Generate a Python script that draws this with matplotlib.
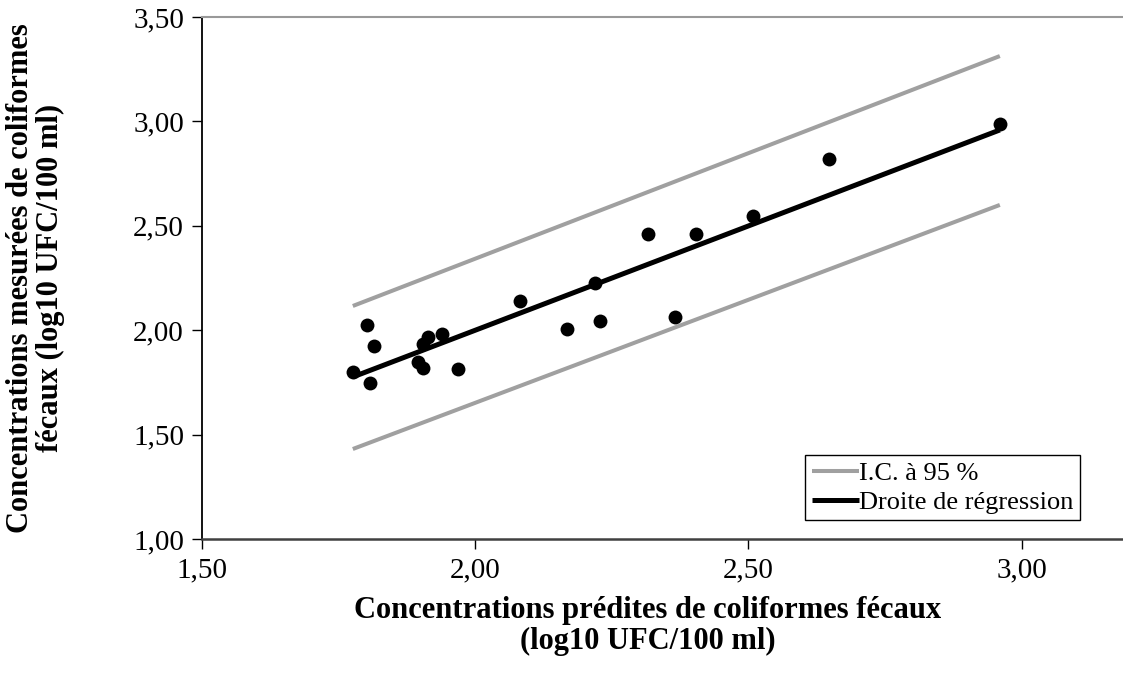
import matplotlib
matplotlib.use("Agg")
from matplotlib import pyplot as plt
from matplotlib.ticker import FuncFormatter

predites = [1.776, 1.802, 1.807, 1.815, 1.895, 1.904, 1.904, 1.913, 1.939, 1.968,
            2.082, 2.168, 2.228, 2.219, 2.316, 2.404, 2.508, 2.365, 2.647, 2.960]
mesurees = [1.800, 2.025, 1.747, 1.924, 1.848, 1.819, 1.934, 1.967, 1.982, 1.814,
            2.140, 2.006, 2.044, 2.226, 2.461, 2.461, 2.547, 2.063, 2.820, 2.988]

# end points of the regression line and of the 95 % bounds
ligne_x = [1.776, 2.960]
droite_y = [1.776, 2.959]
ic_haut_y = [2.116, 3.313]
ic_bas_y = [1.431, 2.600]

x_ticks = [1.5, 2.0, 2.5, 3.0]
y_ticks = [1.0, 1.5, 2.0, 2.5, 3.0, 3.5]

plt.rcParams['font.family'] = ['Liberation Serif', 'DejaVu Serif']

W, H = 1123, 690
fig = plt.figure(figsize=(W / 100, H / 100), dpi=100)
ax = fig.add_axes([202 / W, 1 - 539 / H, 929 / W, 522 / H])

ax.plot(ligne_x, ic_haut_y, color='#a0a0a0', lw=2.9, solid_capstyle='butt', label='I.C. à 95 %')
ax.plot(ligne_x, ic_bas_y, color='#a0a0a0', lw=2.9, solid_capstyle='butt')
ax.plot(ligne_x, droite_y, color='black', lw=3.6, solid_capstyle='butt', label='Droite de régression')
ax.scatter(predites, mesurees, s=100, color='black', zorder=3, linewidths=0)

ax.set_xlim(1.5, 3.2)
ax.set_ylim(1.0, 3.5)
ax.set_xticks(x_ticks)
ax.set_yticks(y_ticks)
fmt = FuncFormatter(lambda v, p: f"{v:.2f}".replace('.', ','))
ax.xaxis.set_major_formatter(fmt)
ax.yaxis.set_major_formatter(fmt)
ax.tick_params(axis='both', labelsize=21, direction='out', length=7, width=1, color='black', pad=6)

ax.spines['right'].set_visible(False)
ax.spines['top'].set_color('#999999')
ax.spines['top'].set_linewidth(1.5)
ax.spines['left'].set_color('black')
ax.spines['left'].set_linewidth(1.3)
ax.spines['bottom'].set_color('#404040')
ax.spines['bottom'].set_linewidth(1.8)

ax.set_xlabel("Concentrations prédites de coliformes fécaux\n(log10 UFC/100 ml)",
              fontsize=22, fontweight='bold', linespacing=1.1)
ax.set_ylabel("Concentrations mesurées de coliformes\nfécaux (log10 UFC/100 ml)",
              fontsize=22, fontweight='bold', linespacing=1.05)
ax.yaxis.set_label_coords((65 - 202) / 929, 0.5)
ax.xaxis.set_label_coords(0.48, (539 - 596) / 522)
ax.xaxis.label.set_verticalalignment('top')

leg = ax.legend(loc='upper left', bbox_to_anchor=(805 / W, 1 - 455 / H),
                bbox_transform=fig.transFigure, fontsize=19, frameon=True,
                fancybox=False, edgecolor='black', framealpha=1,
                handlelength=1.8, handletextpad=0.0, borderpad=0.25,
                labelspacing=0.2, borderaxespad=0)
leg.get_frame().set_linewidth(1.0)

fig.savefig("out.png", dpi=100)
